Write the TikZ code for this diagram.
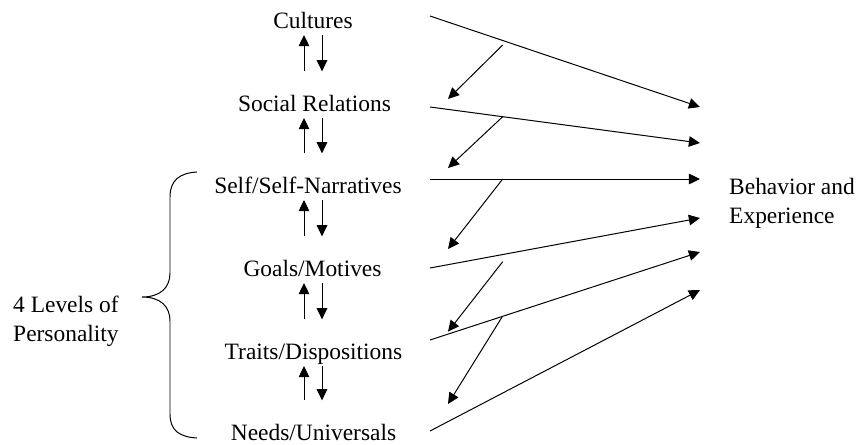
\documentclass[tikz,border=0pt]{standalone}
\usepackage{fontspec}
\setmainfont{Liberation Serif}
\usetikzlibrary{arrows.meta}

\tikzset{
  lvltext/.style={inner sep=0pt, text height=14pt, text depth=4pt, anchor=base},
  sidetext/.style={inner sep=0pt, align=left, anchor=north west},
  flow/.style={-{Triangle[length=9.5pt,width=9pt]}, line width=0.85pt},
  lvlup/.style={flow, shorten <=0.69cm, shorten >=0.21cm},
  lvldown/.style={flow, shorten <=0.21cm, shorten >=0.69cm},
  brc/.style={line width=0.85pt},
}

\begin{document}
\begin{tikzpicture}[x=0.03cm, y=-0.03cm, font=\fontsize{20}{24.5}\selectfont]
    \useasboundingbox (0,0) rectangle (858,445);

    % Nodes
    \node[lvltext] (Cu) at (313, 28) {Cultures};
    \node[lvltext] (SR) at (314.5, 111) {Social Relations};
    \node[lvltext] (SN) at (308, 193) {Self/Self-Narratives};
    \node[lvltext] (GM) at (312.5, 276) {Goals/Motives};
    \node[lvltext] (TD) at (313.5, 359) {Traits/Dispositions};
    \node[lvltext] (NU) at (313.5, 440) {Needs/Universals};
    \node[sidetext] (L4) at (13, 296) {4 Levels of\\Personality};
    \node[sidetext] (BE) at (729, 178) {Behavior and\\Experience};
    \coordinate (Ax) at (313, 0);

    % Line ends
    \coordinate (Cu0) at (430, 16);
    \coordinate (SR0) at (430, 107);
    \coordinate (SN0) at (430, 179);
    \coordinate (GM0) at (430, 268);
    \coordinate (TD0) at (430, 340);
    \coordinate (NU0) at (430, 431);
    \coordinate (B1) at (700, 107);
    \coordinate (B2) at (700, 143);
    \coordinate (B3) at (700, 179);
    \coordinate (B4) at (700, 218);
    \coordinate (B5) at (700, 252);
    \coordinate (B6) at (700, 290);
    \coordinate (X1) at (502.7, 45);
    \coordinate (X2) at (502.7, 116.7);
    \coordinate (X3) at (502.7, 179);
    \coordinate (X4) at (502.7, 261.7);
    \coordinate (X5) at (502.7, 316);
    \coordinate (Y1) at (448, 99);
    \coordinate (Y2) at (448, 168);
    \coordinate (Y3) at (448, 249);
    \coordinate (Y4) at (448, 331.7);
    \coordinate (Y5) at (448, 404);

    % Between levels
    \draw[lvlup] ([xshift=-0.27cm]SR.north -| Ax) -- ([xshift=-0.27cm]Cu.base -| Ax);
    \draw[lvldown] ([xshift=0.27cm]Cu.base -| Ax) -- ([xshift=0.27cm]SR.north -| Ax);
    \draw[lvlup] ([xshift=-0.27cm]SN.north -| Ax) -- ([xshift=-0.27cm]SR.base -| Ax);
    \draw[lvldown] ([xshift=0.27cm]SR.base -| Ax) -- ([xshift=0.27cm]SN.north -| Ax);
    \draw[lvlup] ([xshift=-0.27cm]GM.north -| Ax) -- ([xshift=-0.27cm]SN.base -| Ax);
    \draw[lvldown] ([xshift=0.27cm]SN.base -| Ax) -- ([xshift=0.27cm]GM.north -| Ax);
    \draw[lvlup] ([xshift=-0.27cm]TD.north -| Ax) -- ([xshift=-0.27cm]GM.base -| Ax);
    \draw[lvldown] ([xshift=0.27cm]GM.base -| Ax) -- ([xshift=0.27cm]TD.north -| Ax);
    \draw[lvlup] ([xshift=-0.27cm]NU.north -| Ax) -- ([xshift=-0.27cm]TD.base -| Ax);
    \draw[lvldown] ([xshift=0.27cm]TD.base -| Ax) -- ([xshift=0.27cm]NU.north -| Ax);

    % To behavior
    \draw[flow] (Cu0) -- (B1);
    \draw[flow] (SR0) -- (B2);
    \draw[flow] (SN0) -- (B3);
    \draw[flow] (GM0) -- (B4);
    \draw[flow] (TD0) -- (B5);
    \draw[flow] (NU0) -- (B6);

    % Down the levels
    \draw[flow] (X1) -- (Y1);
    \draw[flow] (X2) -- (Y2);
    \draw[flow] (X3) -- (Y3);
    \draw[flow] (X4) -- (Y4);
    \draw[flow] (X5) -- (Y5);

    % Brace
    \draw[brc] (197, 172) .. controls (180, 173) and (170, 180) .. (170, 197)
        -- (170, 273) .. controls (170, 288) and (160, 297) .. (142, 297)
        .. controls (160, 297) and (170, 306) .. (170, 321)
        -- (170, 414) .. controls (170, 431) and (180, 437) .. (197, 438);
\end{tikzpicture}
\end{document}
